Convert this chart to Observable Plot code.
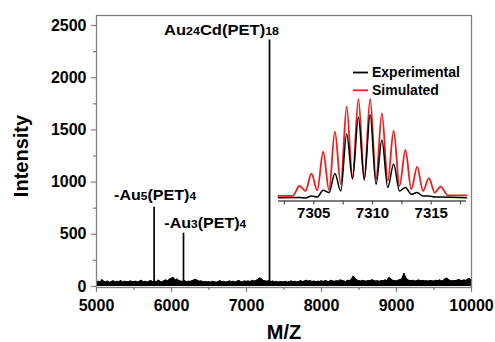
<!DOCTYPE html>
<html>
<head>
<meta charset="utf-8">
<script src="https://cdn.jsdelivr.net/npm/d3@7"></script>
<script src="https://cdn.jsdelivr.net/npm/@observablehq/plot@0.6"></script>
<style>
  html, body { margin: 0; padding: 0; background: #fff; }
  #wrap { position: relative; width: 495px; height: 342px; overflow: hidden; }
  #inset { position: absolute; left: 270px; top: 60px; }
  svg { font-family: "Liberation Sans", Arial, sans-serif; }
</style>
</head>
<body>
<div id="wrap"><div id="main"></div><div id="inset"></div></div>
<script>
// ---------- data ----------
const xTicks = [5000, 6000, 7000, 8000, 9000, 10000];
const xMinor = [5500, 6500, 7500, 8500, 9500];
const yTicks = [0, 500, 1000, 1500, 2000, 2500];
const yMinor = [250, 750, 1250, 1750, 2250];

const peakMz = [5768, 6160, 7307];
const peakIntensity = [760, 510, 2362];
const peakNames = ["Au5", "Au3", "Au24Cd"];

// baseline noise envelope, every 25 m/z from 5000 to 10000
const noiseStartMz = 5000, noiseStepMz = 25;
const noiseTop = [
  42,50,40,66,47,43,52,39,46,55,41,49,44,57,40,50,46,43,53,48,
  44,51,41,49,59,43,50,40,48,56,46,52,43,61,49,41,55,63,53,70,
  78,86,60,73,55,50,48,57,43,51,47,54,63,68,56,49,53,43,48,42,
  46,40,50,44,39,48,55,43,49,41,46,53,44,50,40,49,57,46,43,52,
  48,53,44,60,50,55,65,82,73,57,53,49,55,46,52,43,48,40,46,44,
  43,49,40,46,53,44,50,41,48,55,45,52,59,49,56,46,53,43,50,48,
  54,46,57,50,44,60,53,48,55,50,63,57,52,46,59,54,70,100,77,61,
  55,50,59,53,49,57,52,65,56,50,54,48,58,53,62,56,87,73,59,55,
  53,60,65,75,128,85,63,57,54,59,50,56,62,53,58,52,55,49,57,54,
  50,59,55,63,53,58,73,80,61,56,52,58,54,67,60,55,62,57,70,77,
  58
];

// inset: isotope pattern (relative intensity)
const simMz = [7302,7303.2,7303.8,7304.3,7304.8,7305.3,7305.8,7306.3,7306.8,7307.3,7307.8,7308.3,7308.8,7309.3,7309.8,7310.3,7310.8,7311.3,7311.8,7312.3,7312.8,7313.3,7313.8,7314.3,7314.8,7315.3,7315.8,7316.4,7318];
const simInt = [5,5,14.7,9.8,26.8,10.5,48.2,10.8,67.8,16.7,92.4,22.6,100,22.6,100,21.3,85.8,19.7,68.8,14.7,49.9,11.5,33.4,9.8,22.3,8.2,14.1,5.6,5.6];
const expMz = [7302,7303.8,7304.3,7304.8,7305.3,7305.8,7306.3,7306.8,7307.3,7307.8,7308.3,7308.8,7309.3,7309.8,7310.3,7310.8,7311.3,7311.8,7312.3,7312.8,7313.3,7313.8,7314.3,7314.8,7315.3,7315.8,7318];
const expInt = [3.2,3.4,2.9,4.9,3.9,10.5,8.2,26.8,9.8,65.6,21.6,81.9,20.6,84.3,16.4,59.7,13.1,36.1,9.8,13.1,6.6,8.2,4.9,4.9,3.9,3.9,3.2];
const insetTicks = [7305, 7310, 7315];
const insetMinor = [7302.5, 7307.5, 7312.5, 7317.5];

const seriesNames = ["Experimental", "Simulated"];
const seriesColors = ["#000000", "#ee1d1d"];

// ---------- build tables ----------
const noise = noiseTop.map((v, i) => ({mz: noiseStartMz + i * noiseStepMz, v}));
const peaks = peakMz.map((m, i) => ({mz: m, i: peakIntensity[i], name: peakNames[i]}));
const sim = simMz.map((m, i) => ({mz: m, v: simInt[i]}));
const exp = expMz.map((m, i) => ({mz: m, v: expInt[i]}));

const fmt = d3.format("d");
const GRAY = "#7f7f7f";

// ---------- main plot ----------
const main = Plot.plot({
  width: 495, height: 342,
  marginLeft: 96, marginRight: 24, marginTop: 15, marginBottom: 55,
  style: {fontFamily: "Liberation Sans, Arial, sans-serif", fontWeight: "bold", fontSize: "16px", color: "black", background: "transparent"},
  x: {domain: [5000, 10000]},
  y: {domain: [-10, 2596]},
  marks: [
    Plot.areaY(noise, {x: "mz", y: "v", fill: "black"}),
    Plot.lineY(noise, {x: "mz", y: "v", stroke: "black", strokeWidth: 1}),
    Plot.ruleX(peaks, {x: "mz", y1: 0, y2: "i", stroke: "black", strokeWidth: 1.7}),
    Plot.frame({stroke: GRAY, strokeWidth: 1.3}),
    Plot.axisY({ticks: yTicks, tickSize: 5, tickPadding: 5, tickFormat: fmt, label: null, stroke: GRAY, fill: "black", strokeWidth: 1.2}),
    Plot.axisY({ticks: yMinor, tickSize: 3, tickFormat: () => "", label: null, stroke: GRAY, strokeWidth: 1.2}),
    Plot.axisX({ticks: xTicks, tickSize: 5, tickPadding: 7, tickFormat: fmt, label: null, stroke: GRAY, fill: "black", strokeWidth: 1.2}),
    Plot.axisX({ticks: xMinor, tickSize: 3, tickFormat: () => "", label: null, stroke: GRAY, strokeWidth: 1.2})
  ]
});
document.getElementById("main").appendChild(main);

const sx = main.scale("x"), sy = main.scale("y");
const svg = d3.select(main);

// axis titles
svg.append("text")
  .attr("transform", "translate(28,156) rotate(-90)")
  .attr("text-anchor", "middle")
  .style("font-size", "20px").style("font-weight", "bold").attr("fill", "black")
  .text("Intensity");
svg.append("text")
  .attr("x", 284).attr("y", 339)
  .attr("text-anchor", "middle")
  .style("font-size", "20px").style("font-weight", "bold").attr("fill", "black")
  .text("M/Z");

// peak annotations with subscripts
function label(parts, x, y, len) {
  const t = svg.append("text").attr("x", x).attr("y", y)
    .attr("text-anchor", "start")
    .style("font-size", "14px").style("font-weight", "bold").attr("fill", "black")
    .attr("textLength", len).attr("lengthAdjust", "spacingAndGlyphs");
  parts.forEach(([s, sub]) => t.append("tspan").style("font-size", sub ? "10.5px" : "14px").text(s));
}
const pk = Object.fromEntries(peaks.map(p => [p.name, p]));
label([["Au", 0], ["24", 1], ["Cd(PET)", 0], ["18", 1]], sx.apply(pk.Au24Cd.mz) - 105, sy.apply(pk.Au24Cd.i) - 4, 115);
label([["-Au", 0], ["5", 1], ["(PET)", 0], ["4", 1]], sx.apply(pk.Au5.mz) - 39.5, sy.apply(pk.Au5.i) - 7, 82);
label([["-Au", 0], ["3", 1], ["(PET)", 0], ["4", 1]], sx.apply(pk.Au3.mz) - 18.7, sy.apply(pk.Au3.i) - 4.5, 82);

// ---------- inset ----------
const inset = Plot.plot({
  width: 205, height: 165,
  marginLeft: 8, marginRight: 9, marginTop: 38.3, marginBottom: 24.5,
  style: {fontFamily: "Liberation Sans, Arial, sans-serif", fontWeight: "bold", fontSize: "15px", color: "black", background: "transparent", overflow: "visible"},
  x: {domain: [7302, 7318]},
  y: {domain: [0, 100], axis: null},
  marks: [
    Plot.line(sim, {x: "mz", y: "v", stroke: seriesColors[1], strokeWidth: 1.8, curve: "monotone-x"}),
    Plot.line(exp, {x: "mz", y: "v", stroke: seriesColors[0], strokeWidth: 1.5, curve: "monotone-x"}),
    Plot.ruleY([0], {stroke: "#555", strokeWidth: 1.5}),
    Plot.axisX({ticks: insetTicks, tickSize: 4, tickPadding: 2, tickFormat: fmt, label: null, stroke: "#555", fill: "black", strokeWidth: 1.2}),
    Plot.axisX({ticks: insetMinor, tickSize: 4, tickFormat: () => "", label: null, stroke: "#555", strokeWidth: 1.2})
  ]
});
document.getElementById("inset").appendChild(inset);

// legend
const lg = svg.append("g").attr("text-anchor", "start");
seriesNames.forEach((name, i) => {
  const y = 72.5 + i * 17.8;
  lg.append("line").attr("x1", 353).attr("x2", 368).attr("y1", y).attr("y2", y)
    .attr("stroke", seriesColors[i]).attr("stroke-width", 1.8);
  lg.append("text").attr("x", 372).attr("y", y + 4.4)
    .style("font-size", "14px").style("font-weight", "bold").attr("fill", "black").text(name);
});
</script>
</body>
</html>
